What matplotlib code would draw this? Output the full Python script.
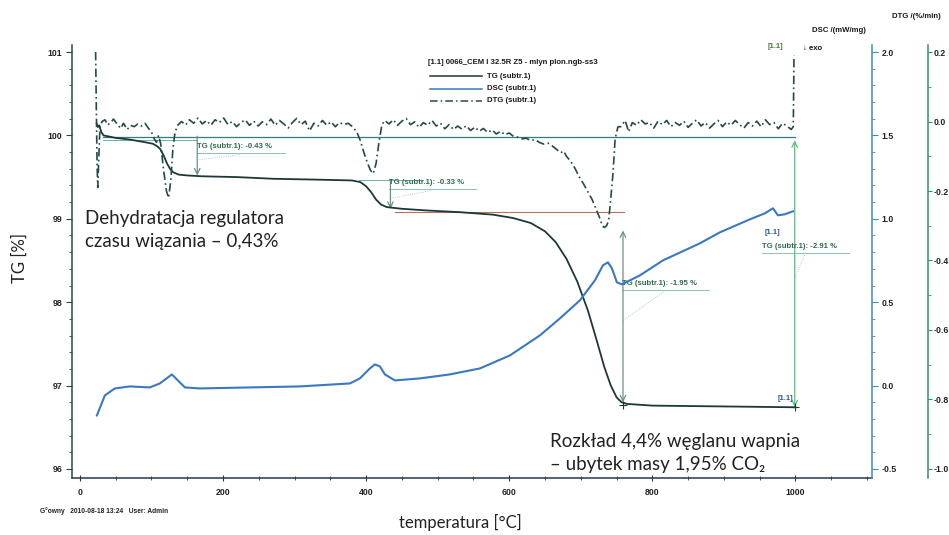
import numpy as np
import matplotlib.pyplot as plt
from matplotlib.ticker import MultipleLocator, FixedLocator

# --- dane ---
tg_temp = [23.5, 25, 27, 30, 33, 50, 70, 90, 102, 108, 112, 117, 122, 126, 130, 138,
           150, 170, 220, 270, 330, 380, 392, 400, 407, 414, 421, 429, 450, 485, 530,
           577, 605, 630, 650, 665, 680, 695, 710, 722, 733, 742, 750, 757, 765, 800,
           900, 1000]
tg_val = [100.14, 100.10, 100.12, 100.04, 100.00, 99.97, 99.95, 99.92, 99.90, 99.87,
          99.84, 99.76, 99.66, 99.60, 99.56, 99.53, 99.52, 99.51, 99.50, 99.48, 99.47,
          99.46, 99.44, 99.39, 99.32, 99.23, 99.17, 99.14, 99.12, 99.10, 99.08, 99.05,
          99.01, 98.95, 98.85, 98.72, 98.52, 98.25, 97.90, 97.55, 97.22, 97.00, 96.86,
          96.80, 96.78, 96.76, 96.75, 96.74]

dsc_temp = [23.8, 34.9, 48.9, 69.9, 97.8, 111.8, 123.0, 128.6, 137.0, 146.8, 167.7,
            237.6, 307.5, 377.4, 391.3, 405.3, 412.3, 419.3, 426.3, 440.2, 475.2, 517.1,
            559.1, 601.0, 642.9, 670.9, 698.8, 719.8, 731.0, 738.0, 743.5, 750.5, 757.5,
            782.7, 815.0, 866.5, 894.5, 936.5, 957.4, 968.6, 975.5, 985.3, 996.5]
dsc_val = [-0.179, -0.059, -0.017, -0.005, -0.011, 0.013, 0.049, 0.067, 0.031, -0.011,
           -0.017, -0.011, -0.005, 0.013, 0.043, 0.103, 0.127, 0.115, 0.067, 0.031,
           0.043, 0.067, 0.103, 0.181, 0.301, 0.403, 0.511, 0.631, 0.721, 0.739, 0.703,
           0.619, 0.607, 0.661, 0.751, 0.853, 0.919, 0.997, 1.033, 1.063, 1.021, 1.027,
           1.045]

dtg_temp = [22, 23, 24, 25, 26.5, 28,
            31, 35, 39, 43, 47, 52, 57, 61, 66, 71, 76, 81, 86, 91, 96,
            100, 104, 107, 110, 113, 117, 121, 124, 127, 130, 133,
            137, 142, 148, 153, 159, 165, 171, 177, 183, 189, 195, 201, 207, 213, 219,
            225, 231, 237, 243, 249, 255, 261, 267, 273, 279, 285, 291, 297, 303, 309,
            315, 321, 327, 333, 339, 345, 351, 357, 363, 369, 375, 381,
            387, 392, 397, 402, 406, 410, 414, 418, 422,
            426, 432, 438, 444, 450, 456, 462, 468, 474, 480, 486, 492, 498, 504, 510,
            516, 522, 528,
            534, 540, 546, 552, 558, 564, 570, 576, 582, 588, 594, 600, 606,
            612, 618, 624, 630, 636, 642, 648, 654, 660, 666, 672, 676, 680, 686, 692,
            698, 704, 708, 712, 716, 720, 724, 727, 730, 733, 736, 739, 742, 745, 748, 752,
            756, 762, 767, 772, 778, 784, 790, 796, 802, 808, 814, 820, 826, 832, 838,
            844, 850, 856, 862, 868, 874, 880, 886, 892, 898, 904, 910, 916, 922, 928,
            934, 940, 946, 952, 958, 964, 970, 976, 982, 988, 994, 997, 998]
dtg_val = [0.20, 0.05, -0.12, -0.19, -0.10, -0.02,
           0.0, 0.005, -0.01, -0.003, 0.007, -0.007, -0.02, -0.005, -0.023, -0.011,
           -0.015, -0.007, -0.013, -0.005, -0.02,
           -0.03, -0.05, -0.06, -0.04, -0.065, -0.14, -0.20, -0.22, -0.17, -0.08, -0.03,
           -0.01, 0.0, -0.01, 0.005, -0.005, 0.01, -0.007, 0.003, -0.011, 0.005, -0.003,
           0.01, -0.009, 0.0, -0.015, -0.003, 0.005, -0.011, 0.001, -0.013, -0.001,
           -0.009, 0.007, -0.011, 0.003, -0.007, -0.019, -0.003, 0.009, -0.009, 0.001,
           -0.027, -0.005, -0.013, 0.003, -0.011, -0.001, -0.015, -0.003, -0.009, -0.005,
           -0.015,
           -0.03, -0.055, -0.09, -0.12, -0.14, -0.15, -0.12, -0.06, -0.01,
           0.003, -0.007, 0.005, -0.011, 0.001, 0.009, -0.009, -0.001, -0.017, -0.003,
           -0.011, 0.003, -0.013, -0.005, -0.021, -0.009, -0.023, -0.013,
           -0.022, -0.012, -0.026, -0.016, -0.028, -0.02, -0.032, -0.024, -0.036, -0.028,
           -0.038, -0.033, -0.043,
           -0.045, -0.05, -0.048, -0.055, -0.052, -0.06, -0.065, -0.062, -0.07, -0.08,
           -0.09, -0.085, -0.10, -0.115, -0.135, -0.16, -0.18, -0.195, -0.21, -0.225,
           -0.245, -0.265, -0.28, -0.30, -0.305, -0.30, -0.285, -0.22, -0.15, -0.05,
           -0.015,
           -0.015, 0.003, -0.03, -0.003, -0.011, 0.005, -0.007, -0.003, -0.019, 0.001,
           -0.009, 0.003, -0.015, -0.003, -0.011, 0.001, -0.017, -0.005, 0.005, -0.013,
           -0.003, -0.019, -0.007, 0.003, -0.015, -0.001, -0.011, 0.003, -0.009, -0.019,
           -0.003, -0.013, 0.001, -0.015, 0.005, -0.009, -0.003, -0.021, -0.005, -0.013,
           -0.023, -0.015, 0.19]
assert len(dtg_temp) == len(dtg_val)

# stopnie TG: temperatura, TG gora, TG dol, tekst
step_temp = [164, 434, 759, 999]
step_top = [99.99, 99.47, 98.86, 99.94]
step_bot = [99.52, 99.12, 96.80, 96.74]
step_text = ["TG (subtr.1): -0.43 %", "TG (subtr.1): -0.33 %",
             "TG (subtr.1): -1.95 %", "TG (subtr.1): -2.91 %"]
label_temp = [164, 432, 757, 953]
label_tg = [99.87, 99.44, 98.23, 98.67]

c_tg = '#1c3838'
c_dsc = '#3a78bf'
c_dtg = '#244a4a'
c_lbl = '#2e6b4e'
W, H = 949, 535

def fx(px):
    return px / W

def fy(py):
    return 1 - py / H

fig = plt.figure(figsize=(9.49, 5.35), dpi=100, facecolor='white')
ax = fig.add_axes([fx(72), fy(478), fx(800), 433 / H])
ax_dsc = ax.twinx()
ax_dtg = ax.twinx()

tg_lim = (95.892, 101.084)
ax.set_xlim(-11, 1107)
ax.set_ylim(*tg_lim)
ax_dsc.set_ylim((tg_lim[0] - 97) / 2, (tg_lim[1] - 97) / 2)
ax_dtg.set_ylim(0.2 + (tg_lim[0] - 101) * 0.24, 0.2 + (tg_lim[1] - 101) * 0.24)

# krzywe
ax.plot(tg_temp, tg_val, color=c_tg, lw=1.3, zorder=5)
ax_dsc.plot(dsc_temp, dsc_val, color=c_dsc, lw=1.5, zorder=5)
ax_dtg.plot(dtg_temp, dtg_val, color=c_dtg, lw=1.2, ls=(0, (5, 2, 1, 2)), zorder=5)

# linie odniesienia
ax.plot([33, 1000], [99.98, 99.98], color='#2f7f80', lw=0.9)
ax.plot([33, 164], [99.94, 99.94], color='#6fb0b0', lw=0.7)
ax.plot([390, 478], [99.47, 99.47], color='#6fb0b0', lw=0.7)
ax.plot([440, 760], [99.08, 99.08], color='#b5735f', lw=0.8)

# strzalki stopni
for i in range(4):
    col = '#52c27a' if i == 3 else '#6e8f86'
    style = '<->' if i >= 2 else '->'
    ax.annotate('', xy=(step_temp[i], step_bot[i]), xytext=(step_temp[i], step_top[i]),
                arrowprops=dict(arrowstyle=style, color=col, lw=0.9, shrinkA=0, shrinkB=0))
    ax.text(label_temp[i], label_tg[i], step_text[i], fontsize=5.6, fontweight='bold',
            color=c_lbl, va='center', ha='left', family='Liberation Sans', zorder=6)
    ax.plot([label_temp[i], label_temp[i] + 122], [label_tg[i] - 0.08, label_tg[i] - 0.08],
            color='#7ab6a8', lw=0.6)
    ax.plot([step_temp[i], label_temp[i] + 60],
            [(step_top[i] + step_bot[i]) / 2 - 0.05, label_tg[i] - 0.1],
            color='#8fc3c0', lw=0.6, ls=':')
ax.plot([step_temp[2], step_temp[3]], [step_bot[2] - 0.03, step_bot[3]], '+',
        color=c_tg, ms=6, mew=0.8, zorder=6)

# osie
for a in (ax, ax_dsc, ax_dtg):
    a.spines['top'].set_visible(False)
ax.spines['right'].set_visible(False)
ax_dtg.spines['left'].set_visible(False)
ax_dsc.spines['left'].set_visible(False)
ax.spines['left'].set_color('#1f4f48')
ax.spines['bottom'].set_color('#28384a')
ax_dsc.spines['right'].set_color('#3f8cc4')
ax_dtg.spines['right'].set_position(('axes', 1.0695))
ax_dtg.spines['right'].set_color('#2f8f6a')
ax_dsc.spines['bottom'].set_visible(False)
ax_dtg.spines['bottom'].set_visible(False)
for a in (ax, ax_dsc, ax_dtg):
    for s in a.spines.values():
        s.set_linewidth(1.1)

tick_font = dict(fontsize=6.3, fontweight='bold', family='Liberation Sans', color='#222222')

ax.yaxis.set_major_locator(FixedLocator([96, 97, 98, 99, 100, 101]))
ax.yaxis.set_minor_locator(MultipleLocator(0.2))
ax.set_yticklabels(['96', '97', '98', '99', '100', '101'], **tick_font)
ax.tick_params(axis='y', which='major', length=4, width=0.8, color='#1f4f48', pad=3)
ax.tick_params(axis='y', which='minor', length=2.5, width=0.6, color='#1f4f48')

ax.xaxis.set_major_locator(FixedLocator([0, 200, 400, 600, 800, 1000]))
ax.xaxis.set_minor_locator(MultipleLocator(50))
ax.set_xticklabels(['0', '200', '400', '600', '800', '1000'], **tick_font)
ax.tick_params(axis='x', which='major', direction='inout', length=5, width=0.8,
               color='#28384a', pad=5)
ax.tick_params(axis='x', which='minor', direction='inout', length=3, width=0.6,
               color='#28384a')

ax_dsc.yaxis.set_major_locator(FixedLocator([-0.5, 0.0, 0.5, 1.0, 1.5, 2.0]))
ax_dsc.yaxis.set_minor_locator(MultipleLocator(0.1))
ax_dsc.set_yticklabels(['-0.5', '0.0', '0.5', '1.0', '1.5', '2.0'], **tick_font)
ax_dsc.tick_params(axis='y', which='major', length=4, width=0.8, color='#3f8cc4', pad=3)
ax_dsc.tick_params(axis='y', which='minor', length=2.5, width=0.6, color='#3f8cc4')

ax_dtg.yaxis.set_major_locator(FixedLocator([-1.0, -0.8, -0.6, -0.4, -0.2, 0.0, 0.2]))
ax_dtg.yaxis.set_minor_locator(MultipleLocator(0.1))
ax_dtg.set_yticklabels(['-1.0', '-0.8', '-0.6', '-0.4', '-0.2', '0.0', '0.2'], **tick_font)
ax_dtg.tick_params(axis='y', which='major', length=3, width=0.8, color='#2f8f6a', pad=1.5)
ax_dtg.tick_params(axis='y', which='minor', length=2, width=0.6, color='#2f8f6a')

# legenda u gory
small = dict(fontsize=5.6, fontweight='bold', family='Liberation Sans', color='#1a1a1a')
fig.text(fx(428), fy(63), "[1.1] 0066_CEM I 32.5R Z5 - mlyn plon.ngb-ss3", va='center', **small)
leg_names = ['TG (subtr.1)', 'DSC (subtr.1)', 'DTG (subtr.1)']
leg_cols = [c_tg, c_dsc, c_dtg]
leg_ls = ['-', '-', (0, (5, 2, 1, 2))]
for i in range(3):
    yy = fy(76 + 12.5 * i)
    fig.add_artist(plt.Line2D([fx(430), fx(482)], [yy, yy], color=leg_cols[i], lw=1.1,
                              ls=leg_ls[i]))
    fig.text(fx(487), yy, leg_names[i], va='center', **small)

fig.text(fx(768), fy(47), "[1.1]", va='center', fontsize=5.6, fontweight='bold',
         family='Liberation Sans', color='#4a7a40')
fig.text(fx(765), fy(232), "[1.1]", va='center', fontsize=5.6, fontweight='bold',
         family='Liberation Sans', color='#2b5a9a')
fig.text(fx(778), fy(398), "[1.1]", va='center', fontsize=5.6, fontweight='bold',
         family='Liberation Sans', color='#2b5a9a')
fig.text(fx(803), fy(48), "\u2193 exo", va='center', **small)
fig.text(fx(812), fy(31), "DSC /(mW/mg)", va='center', **small)
fig.text(fx(892), fy(17), "DTG /(%/min)", va='center', **small)
fig.text(fx(40), fy(511), "G\u00b0owny   2010-08-18 13:24   User: Admin", va='center',
         fontsize=4.8, fontweight='bold', family='Liberation Sans', color='#222222')

# opisy
big = dict(family='Lato', color='#222222')
fig.text(fx(85), fy(230), "Dehydratacja regulatora\nczasu wiązania – 0,43%", va='center',
         linespacing=1.45, fontsize=13.5, **big)
fig.text(fx(550), fy(453), "Rozkład 4,4% węglanu wapnia\n– ubytek masy 1,95% CO\u2082",
         va='center', linespacing=1.45, fontsize=13.5, **big)
fig.text(fx(460), fy(522), "temperatura [°C]", ha='center', va='center', fontsize=12, **big)
fig.text(fx(20), fy(258), "TG [%]", ha='center', va='center', rotation=90, fontsize=12, **big)

fig.savefig('out.png', dpi=100, facecolor='white')
